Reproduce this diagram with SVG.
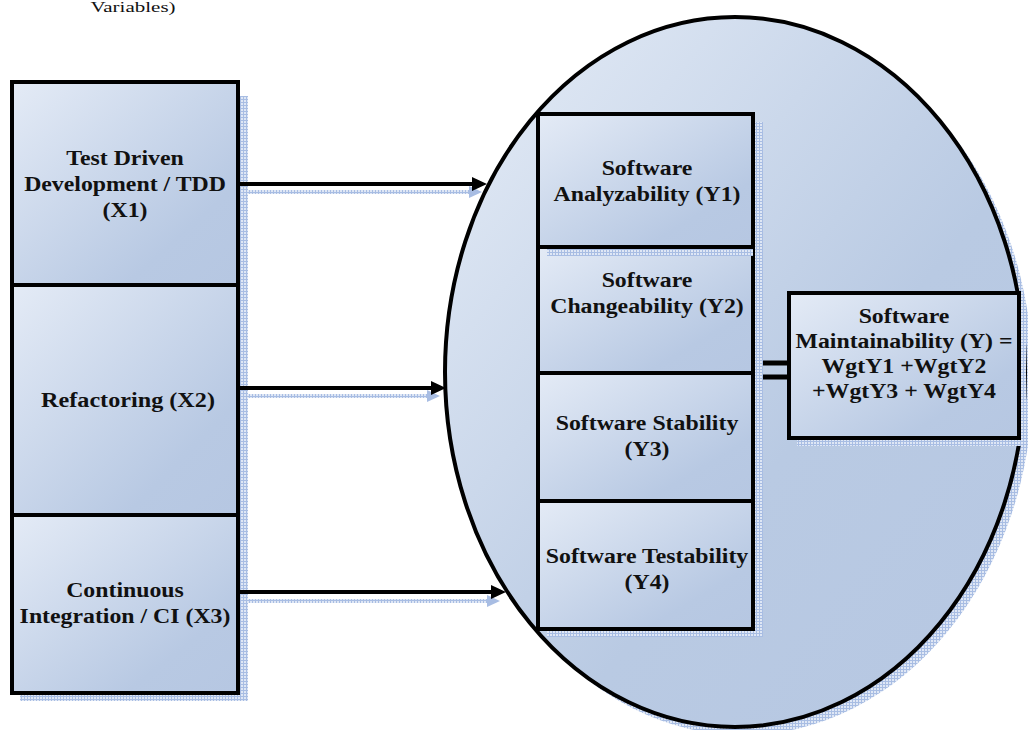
<svg xmlns="http://www.w3.org/2000/svg" width="1028" height="730" viewBox="0 0 1028 730">
<defs>
<style>
.box{stroke:#000;stroke-width:4;fill:url(#g)}
.sh{fill:url(#dots)}
.t{font-family:"Liberation Serif","Times New Roman",serif;font-weight:bold;font-size:20px;fill:#111;text-anchor:middle}
.cap{font-family:"Liberation Serif","Times New Roman",serif;font-size:15px;fill:#111;text-anchor:middle}
.arr{stroke:#000;stroke-width:4;fill:none;marker-end:url(#ah)}
.ash{stroke:url(#dots);stroke-width:4;fill:none;marker-end:url(#ahs)}
.dbl{stroke:#000;stroke-width:5}
</style>
<linearGradient id="g" x1="0" y1="0" x2="1" y2="1">
<stop offset="0" stop-color="#e4ebf6"/>
<stop offset="0.75" stop-color="#b8c9e3"/>
<stop offset="1" stop-color="#b6c7e2"/>
</linearGradient>
<linearGradient id="ge" x1="0" y1="0" x2="1" y2="1">
<stop offset="0" stop-color="#e6edf7"/>
<stop offset="0.6" stop-color="#b9cae3"/>
<stop offset="1" stop-color="#b6c7e2"/>
</linearGradient>
<pattern id="dots" width="3" height="3" patternUnits="userSpaceOnUse">
<rect width="3" height="3" fill="#dfe7f5"/>
<rect width="1" height="3" fill="#a8bde3"/>
<rect width="3" height="1" fill="#a8bde3"/>
</pattern>
<marker id="ah" markerUnits="userSpaceOnUse" markerWidth="16" markerHeight="16" refX="7" refY="7" orient="auto">
<path d="M0,0 L15,7 L0,14 z" fill="#000"/>
</marker>
<marker id="ahs" markerUnits="userSpaceOnUse" markerWidth="16" markerHeight="16" refX="7" refY="7" orient="auto">
<path d="M0,1 L13,7 L0,13 z" fill="#a8bde3"/>
</marker>
</defs>
<rect width="1028" height="730" fill="#fff"/>

<text class="cap" transform="translate(133 12) scale(1.4 1)">Variables)</text>

<g id="ellipse">
<ellipse class="sh" cx="743" cy="380" rx="290" ry="355"/>
<ellipse cx="735" cy="372" rx="290" ry="355" fill="url(#ge)" stroke="#000" stroke-width="4"/>
</g>

<g id="left-shadow">
<rect class="sh" x="20" y="96" width="228" height="605"/>
</g>

<g id="X1">
<rect class="box" x="12" y="82" width="226" height="203"/>
<text class="t" transform="translate(125 0) scale(1.19 1)"><tspan x="0" y="165">Test Driven</tspan><tspan x="0" y="191">Development / TDD</tspan><tspan x="0" y="217">(X1)</tspan></text>
</g>
<g id="X2">
<rect class="box" x="12" y="285" width="226" height="230"/>
<text class="t" transform="translate(128 0) scale(1.21 1)"><tspan x="0" y="407">Refactoring (X2)</tspan></text>
</g>
<g id="X3">
<rect class="box" x="12" y="515" width="226" height="178"/>
<text class="t" transform="translate(125 0) scale(1.19 1)"><tspan x="0" y="597">Continuous</tspan><tspan x="0" y="623">Integration / CI (X3)</tspan></text>
</g>

<g id="connectors">
<line class="ash" x1="240" y1="192" x2="476" y2="192"/>
<line class="ash" x1="240" y1="396" x2="434" y2="396"/>
<line class="ash" x1="240" y1="601" x2="494" y2="601"/>
<line class="arr" x1="238" y1="184" x2="479" y2="184"/>
<line class="arr" x1="238" y1="388" x2="438" y2="388"/>
<line class="arr" x1="238" y1="592" x2="498" y2="592"/>
<line class="dbl" x1="753" y1="363" x2="789" y2="363"/>
<line class="dbl" x1="753" y1="377" x2="789" y2="377"/>
</g>

<g id="Y-shadow">
<rect class="sh" x="547" y="122" width="216" height="515"/>
</g>
<g id="Y4">
<rect class="box" x="538" y="501" width="215" height="128"/>
<text class="t" transform="translate(647 0) scale(1.19 1)"><tspan x="0" y="563">Software Testability</tspan><tspan x="0" y="589">(Y4)</tspan></text>
</g>
<g id="Y3">
<rect class="box" x="538" y="373" width="215" height="128"/>
<text class="t" transform="translate(647 0) scale(1.19 1)"><tspan x="0" y="430">Software Stability</tspan><tspan x="0" y="456">(Y3)</tspan></text>
</g>
<g id="Y2">
<rect class="box" x="538" y="247" width="215" height="126"/>
<text class="t" transform="translate(647 0) scale(1.19 1)"><tspan x="0" y="287">Software</tspan><tspan x="0" y="313">Changeability (Y2)</tspan></text>
</g>
<g id="Y1">
<rect class="sh" x="547" y="249" width="206" height="7"/>
<rect class="box" x="538" y="114" width="215" height="133"/>
<text class="t" transform="translate(647 0) scale(1.19 1)"><tspan x="0" y="175">Software</tspan><tspan x="0" y="201">Analyzability (Y1)</tspan></text>
</g>

<g id="Y">
<rect class="sh" x="797" y="301" width="229" height="145"/>
<rect class="box" x="789" y="293" width="230" height="145"/>
<text class="t" transform="translate(904 0) scale(1.19 1)"><tspan x="0" y="323">Software</tspan><tspan x="0" y="348">Maintainability (Y) =</tspan><tspan x="0" y="373">WgtY1 +WgtY2</tspan><tspan x="0" y="398">+WgtY3 + WgtY4</tspan></text>
</g>
</svg>
